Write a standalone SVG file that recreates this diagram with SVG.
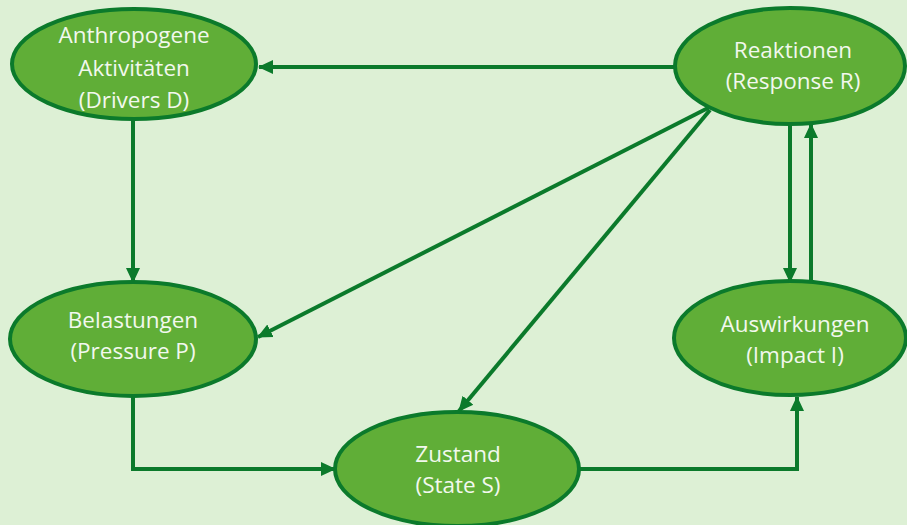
<svg xmlns="http://www.w3.org/2000/svg" width="907" height="525" viewBox="0 0 907 525">
<defs>
<style>
.node{fill:#60AE37;stroke:#0B7A2B;stroke-width:4}
.lbl{fill:#F2F8EE;font-family:"Open Sans","Noto Sans",sans-serif;font-size:22.5px;text-anchor:middle}
.con{fill:none;stroke:#0B7A2B;stroke-width:4}
</style>
<marker id="ah" markerUnits="userSpaceOnUse" markerWidth="16" markerHeight="16" refX="14" refY="8" orient="auto">
<path d="M0,1 L15,8 L0,15 Z" fill="#0B7A2B"/>
</marker>
</defs>
<rect width="907" height="525" fill="#DDF0D5"/>
<g id="connectors">
<line class="con" x1="675" y1="67" x2="259" y2="67" marker-end="url(#ah)"/>
<line class="con" x1="133" y1="119" x2="133" y2="282" marker-end="url(#ah)"/>
<line class="con" x1="708" y1="108" x2="258" y2="337" marker-end="url(#ah)"/>
<line class="con" x1="710" y1="110" x2="459" y2="411" marker-end="url(#ah)"/>
<line class="con" x1="790" y1="125" x2="790" y2="282" marker-end="url(#ah)"/>
<line class="con" x1="811" y1="282" x2="811" y2="124" marker-end="url(#ah)"/>
<polyline class="con" points="133,397 133,469 335,469" marker-end="url(#ah)"/>
<polyline class="con" points="580,469 797,469 797,397" marker-end="url(#ah)"/>
</g>
<g id="node-D">
<ellipse class="node" cx="134" cy="64" rx="122" ry="55"/>
<text class="lbl" x="134" y="43">Anthropogene</text>
<text class="lbl" x="134" y="76">Aktivitäten</text>
<text class="lbl" x="134" y="108">(Drivers D)</text>
</g>
<g id="node-R">
<ellipse class="node" cx="790" cy="66" rx="115" ry="58"/>
<text class="lbl" x="793" y="58">Reaktionen</text>
<text class="lbl" x="793" y="89">(Response R)</text>
</g>
<g id="node-P">
<ellipse class="node" cx="133" cy="339" rx="123" ry="57"/>
<text class="lbl" x="133" y="328">Belastungen</text>
<text class="lbl" x="133" y="359">(Pressure P)</text>
</g>
<g id="node-I">
<ellipse class="node" cx="790" cy="338" rx="116" ry="57"/>
<text class="lbl" x="795" y="332">Auswirkungen</text>
<text class="lbl" x="795" y="363">(Impact I)</text>
</g>
<g id="node-S">
<ellipse class="node" cx="457" cy="469" rx="122" ry="57"/>
<text class="lbl" x="458" y="462">Zustand</text>
<text class="lbl" x="458" y="493">(State S)</text>
</g>
</svg>
